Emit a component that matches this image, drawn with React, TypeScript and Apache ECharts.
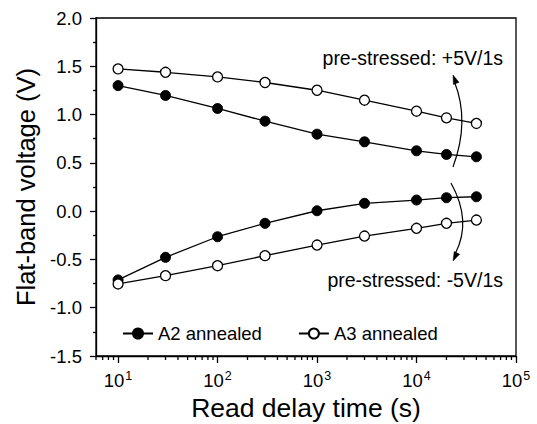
import React, { useEffect, useRef } from "react";
import * as echarts from "echarts";

const delayTimes = [10, 30, 100, 300, 1000, 3000, 10000, 20000, 40000];
const a2Positive = [1.3, 1.198, 1.063, 0.932, 0.797, 0.718, 0.625, 0.587, 0.563];
const a3Positive = [1.473, 1.438, 1.39, 1.332, 1.252, 1.149, 1.035, 0.966, 0.908];
const a2Negative = [-0.712, -0.478, -0.265, -0.126, 0.004, 0.081, 0.115, 0.139, 0.149];
const a3Negative = [-0.754, -0.668, -0.565, -0.461, -0.351, -0.258, -0.178, -0.126, -0.092];
const xMajorExponents = [1, 2, 3, 4, 5];
const xMin = 6;
const xMax = 100000;
const yMin = -1.5;
const yMax = 2.0;
const yInterval = 0.5;
const legendNames = ["A2 annealed", "A3 annealed"];
const annotationTexts = ["pre-stressed: +5V/1s", "pre-stressed: -5V/1s"];

const FONT = "'Liberation Sans', Arial, Helvetica, sans-serif";

function minorTickPositions(): number[] {
  const out: number[] = [];
  for (let d = 0; d < 5; d++) {
    for (let k = 2; k <= 9; k++) {
      const v = k * Math.pow(10, d);
      if (v >= xMin && v <= xMax) out.push(Math.log10(v));
    }
  }
  return out;
}

function pairs(xs: number[], ys: number[]) {
  return xs.map((x, i) => [Math.log10(x), ys[i]]);
}

export default function App() {
  const ref = useRef<HTMLDivElement>(null);
  useEffect(() => {
    if (!ref.current) return;
    const chart = echarts.init(ref.current, null, { renderer: "svg" });
    const lineW = 1.3;
    const filled = {
      type: "line",
      name: legendNames[0],
      symbol: "circle",
      symbolSize: 10,
      lineStyle: { color: "#000", width: lineW },
      itemStyle: { color: "#000", borderColor: "#000", borderWidth: 1 },
      emphasis: { disabled: true },
      z: 3,
    };
    const open = {
      type: "line",
      name: legendNames[1],
      symbol: "circle",
      symbolSize: 10,
      lineStyle: { color: "#000", width: lineW },
      itemStyle: { color: "#fff", borderColor: "#000", borderWidth: 1.3 },
      emphasis: { disabled: true },
      z: 3,
    };
    const option: any = {
      animation: false,
      backgroundColor: "#fff",
      textStyle: { fontFamily: FONT, color: "#000" },
      grid: {
        left: 96,
        right: 21,
        top: 18,
        bottom: 68,
        show: true,
        borderColor: "#000",
        borderWidth: lineW,
        backgroundColor: "transparent",
        outerBoundsMode: "none",
        containLabel: false,
      },
      legend: {
        data: legendNames,
        left: 117,
        top: 319,
        itemWidth: 30,
        itemHeight: 12.5,
        itemGap: 36,
        textStyle: { fontFamily: FONT, fontSize: 18.5, color: "#000" },
        selectedMode: false,
      },
      xAxis: {
        type: "value",
        min: Math.log10(xMin),
        max: Math.log10(xMax),
        name: "Read delay time (s)",
        nameLocation: "middle",
        nameGap: 31,
        nameTextStyle: { fontFamily: FONT, fontSize: 26.5, color: "#000" },
        axisLine: { show: true, onZero: false, lineStyle: { color: "#000", width: lineW } },
        axisTick: {
          show: true,
          inside: false,
          length: 7,
          customValues: xMajorExponents,
          lineStyle: { color: "#000", width: lineW },
        },
        axisLabel: {
          customValues: xMajorExponents,
          margin: 13,
          color: "#000",
          formatter: (v: number) => `{b|10}{s|${Math.round(v)}}`,
          rich: {
            b: { fontFamily: FONT, fontSize: 18.5, color: "#000" },
            s: { fontFamily: FONT, fontSize: 12.5, color: "#000", padding: [0, 0, 9, 1] },
          },
        },
        splitLine: { show: false },
      },
      yAxis: {
        type: "value",
        min: yMin,
        max: yMax,
        interval: yInterval,
        name: "Flat-band voltage (V)",
        nameLocation: "middle",
        nameGap: 52,
        nameRotate: 90,
        nameTextStyle: { fontFamily: FONT, fontSize: 25.5, color: "#000" },
        axisLine: { show: true, onZero: false, lineStyle: { color: "#000", width: lineW } },
        axisTick: { show: true, inside: false, length: 6, lineStyle: { color: "#000", width: lineW } },
        minorTick: { show: true, splitNumber: 2, length: 3, lineStyle: { color: "#000", width: lineW } },
        axisLabel: {
          margin: 14,
          color: "#000",
          fontFamily: FONT,
          fontSize: 18.5,
          formatter: (v: number) => v.toFixed(1),
        },
        splitLine: { show: false },
        minorSplitLine: { show: false },
      },
      series: [
        { ...filled, data: pairs(delayTimes, a2Positive) },
        { ...filled, data: pairs(delayTimes, a2Negative) },
        { ...open, data: pairs(delayTimes, a3Positive) },
        { ...open, data: pairs(delayTimes, a3Negative) },
        {
          type: "custom",
          name: "minorTicks",
          silent: true,
          clip: false,
          data: minorTickPositions().map((x) => [x]),
          renderItem: (_p: any, api: any) => {
            const p = api.coord([api.value(0), yMin]);
            return {
              type: "line",
              shape: { x1: p[0], y1: p[1], x2: p[0], y2: p[1] + 4 },
              style: { stroke: "#000", lineWidth: lineW },
            };
          },
        },
      ],
      graphic: [
        {
          type: "text",
          x: 503,
          y: 58,
          style: {
            text: annotationTexts[0],
            fontFamily: FONT,
            fontSize: 19.5,
            fill: "#000",
            align: "right",
            verticalAlign: "middle",
          },
        },
        {
          type: "text",
          x: 503,
          y: 280,
          style: {
            text: annotationTexts[1],
            fontFamily: FONT,
            fontSize: 19.5,
            fill: "#000",
            align: "right",
            verticalAlign: "middle",
          },
        },
        {
          type: "bezierCurve",
          shape: { x1: 453, y1: 167, x2: 454.5, y2: 82, cpx1: 470, cpy1: 121 },
          style: { stroke: "#000", lineWidth: 1.2, fill: "none" },
        },
        {
          type: "polygon",
          shape: { points: [[453, 75], [459, 82.3], [453.4, 84.5]] },
          style: { fill: "#000", stroke: "#000", lineWidth: 0.5 },
        },
        {
          type: "bezierCurve",
          shape: { x1: 451, y1: 183, x2: 455.5, y2: 253, cpx1: 472, cpy1: 221 },
          style: { stroke: "#000", lineWidth: 1.2, fill: "none" },
        },
        {
          type: "polygon",
          shape: { points: [[453, 261], [459.6, 254.2], [454.2, 251.6]] },
          style: { fill: "#000", stroke: "#000", lineWidth: 0.5 },
        },
      ],
    };
    chart.setOption(option);
    return () => chart.dispose();
  }, []);
  return (
    <div
      ref={ref}
      style={{ position: "fixed", left: 0, top: 0, width: 537, height: 424, background: "#fff" }}
    />
  );
}
